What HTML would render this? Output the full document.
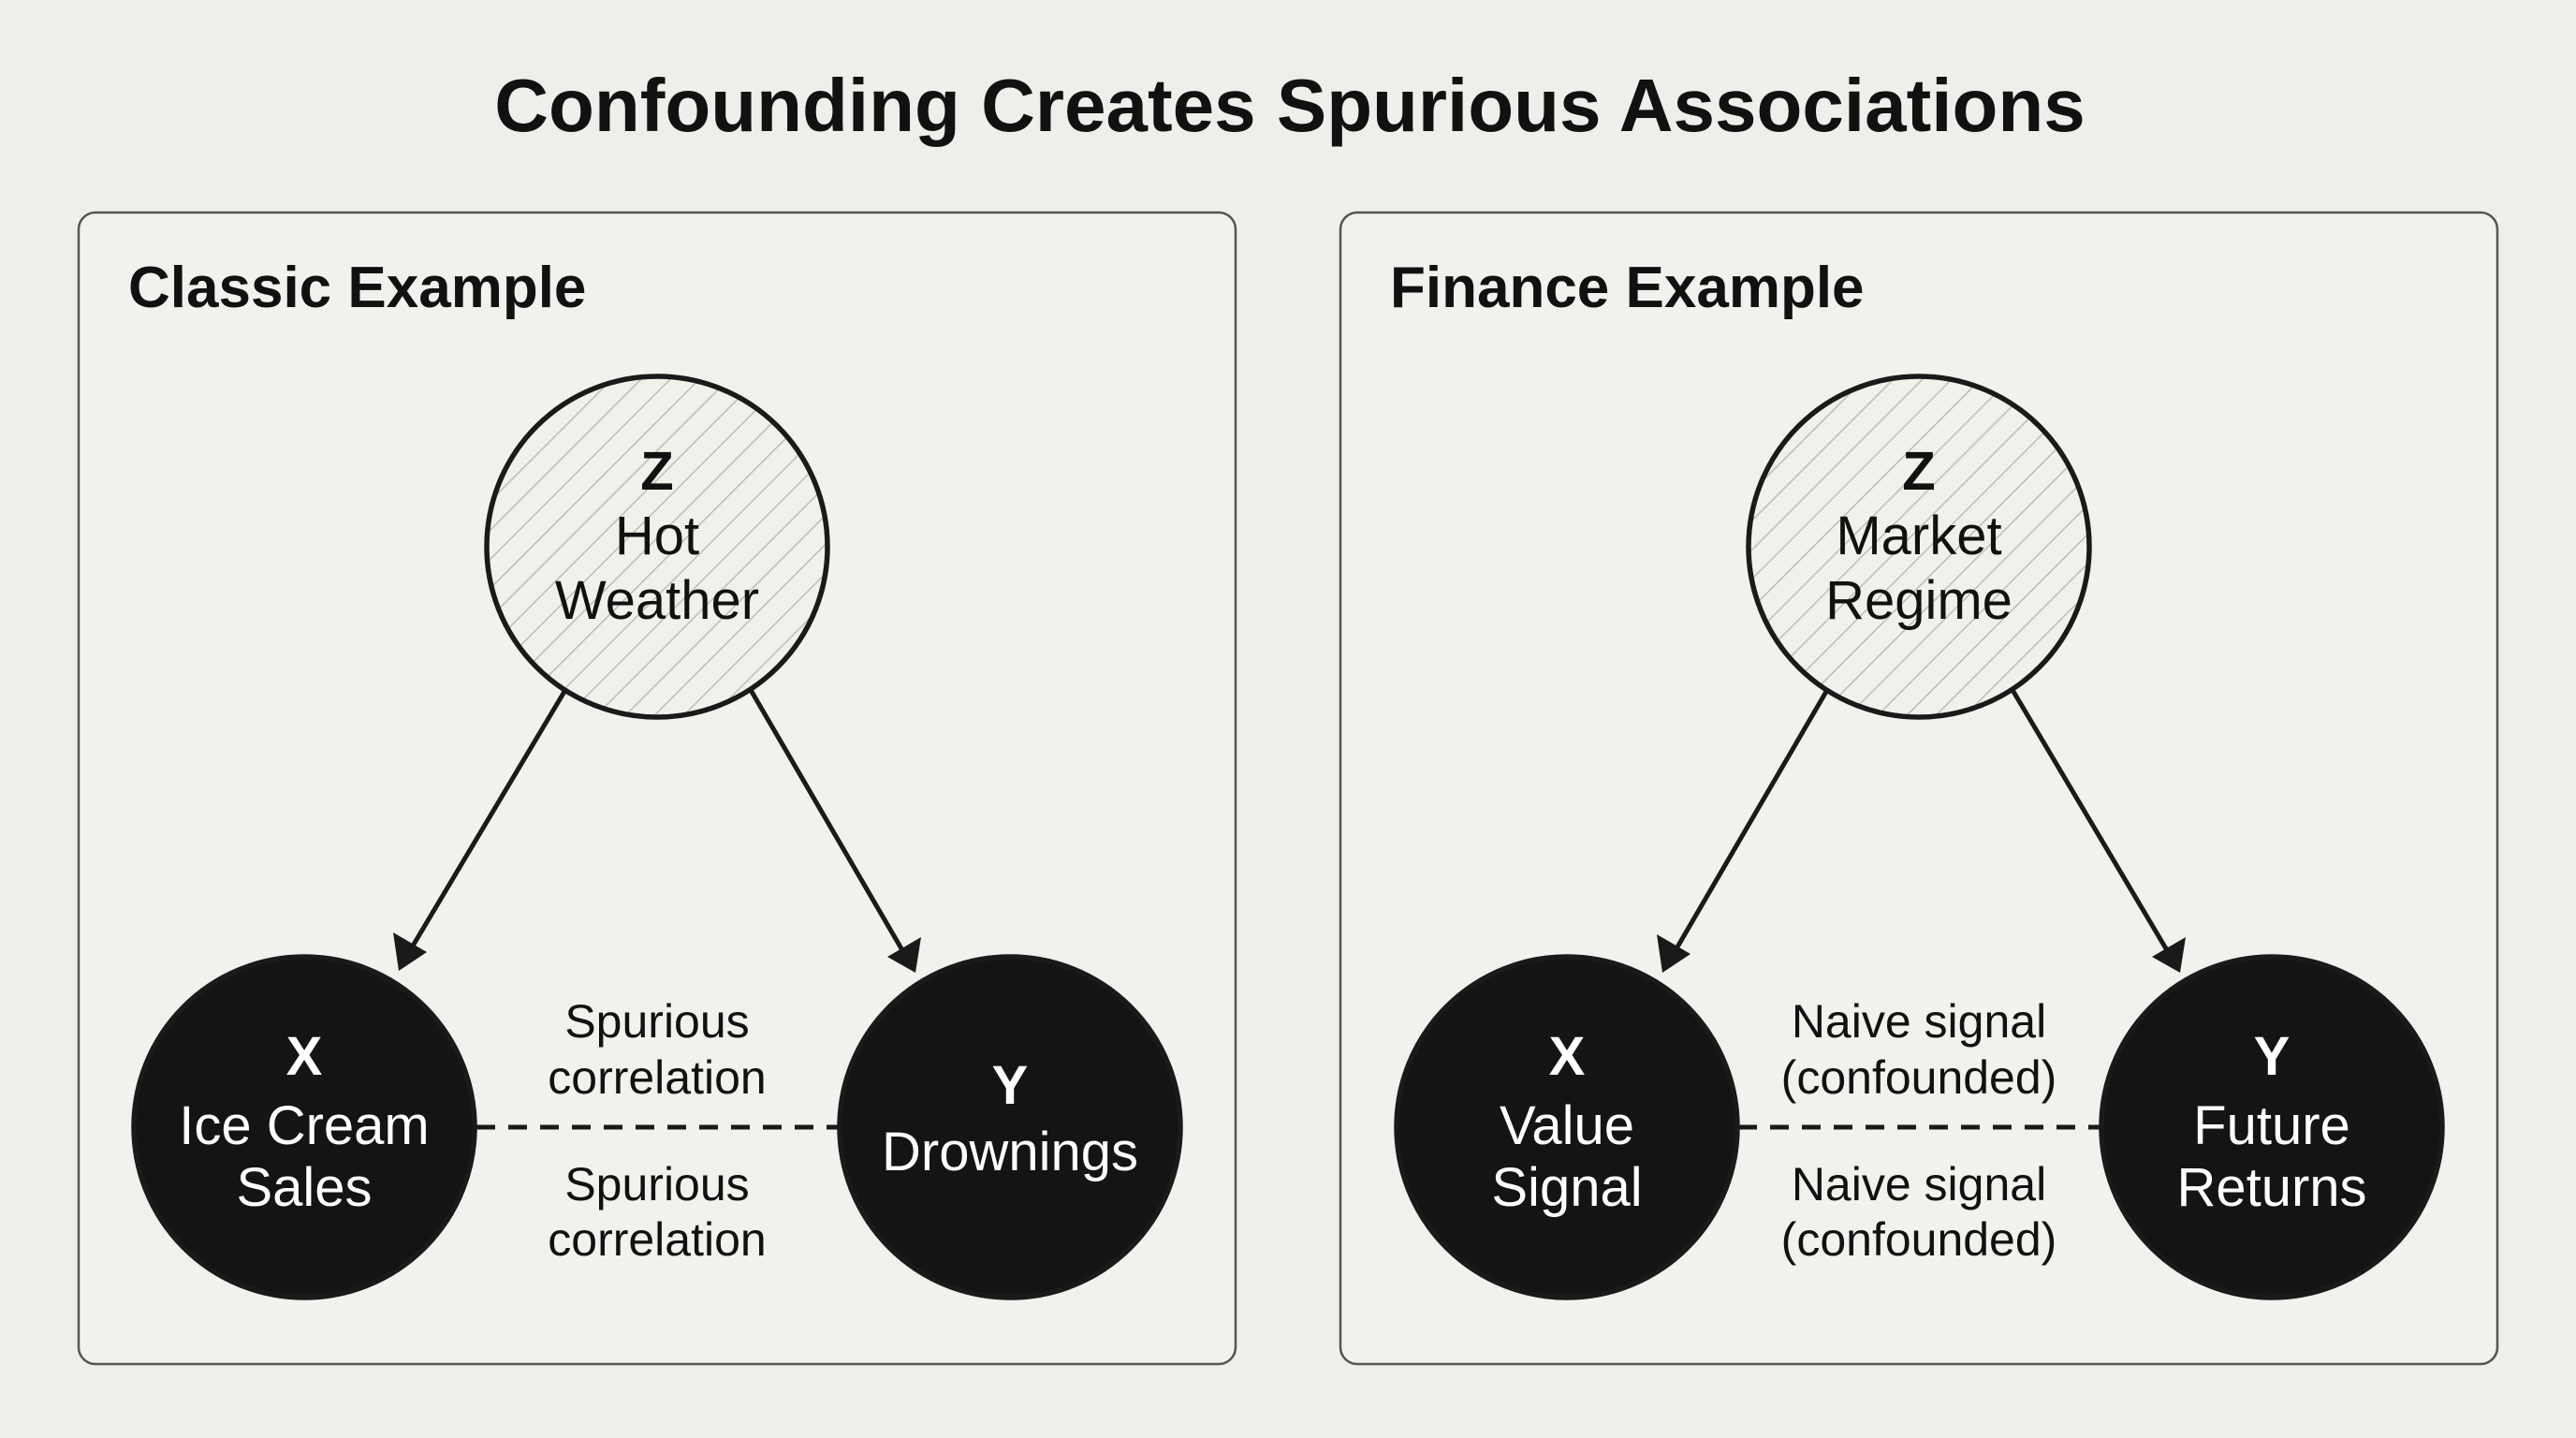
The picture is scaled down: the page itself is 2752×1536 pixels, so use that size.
<!DOCTYPE html>
<html><head><meta charset="utf-8"><style>
html,body{margin:0;padding:0;background:#efeeea;}
svg{display:block}
text{font-family:"Liberation Sans",Arial,sans-serif;}
</style></head><body>
<svg width="2752" height="1536" viewBox="0 0 2752 1536" xmlns="http://www.w3.org/2000/svg">
<defs>
<pattern id="h" patternUnits="userSpaceOnUse" width="22" height="22" patternTransform="rotate(45)">
<rect width="22" height="22" fill="#f1f0eb"/>
<line x1="0" y1="0" x2="0" y2="22" stroke="#bdbcb6" stroke-width="3"/>
</pattern>
</defs>
<rect width="2752" height="1536" fill="#efeeea"/>
<text x="1378" y="140" font-size="80" font-weight="bold" text-anchor="middle" fill="#111">Confounding Creates Spurious Associations</text>

<g stroke="#555" stroke-width="2.5" fill="#f2f1ed">
<rect x="84" y="227" width="1236" height="1230" rx="18"/>
<rect x="1432" y="227" width="1236" height="1230" rx="18"/>
</g>
<text x="137" y="328" font-size="62" font-weight="bold" fill="#111">Classic Example</text>
<text x="1485" y="328" font-size="62" font-weight="bold" fill="#111">Finance Example</text>

<g stroke="#1a1a1a" stroke-width="5" fill="none">
<line x1="604" y1="737" x2="440" y2="1012"/>
<line x1="802" y1="737" x2="964" y2="1015"/>
<line x1="1952" y1="737" x2="1790" y2="1015"/>
<line x1="2150" y1="737" x2="2315" y2="1015"/>
<line x1="509" y1="1204" x2="895" y2="1204" stroke-dasharray="20 14"/>
<line x1="1857" y1="1204" x2="2246" y2="1204" stroke-dasharray="20 14"/>
</g>
<g fill="#1a1a1a">
<polygon points="426,1037 420,996 456,1017"/>
<polygon points="978,1039 948,1022 984,1001"/>
<polygon points="1776,1039 1770,998 1806,1019"/>
<polygon points="2329,1039 2299,1022 2335,1001"/>
</g>

<g stroke="#1a1a1a" stroke-width="5.5">
<circle cx="702" cy="584" r="182" fill="url(#h)"/>
<circle cx="2050" cy="584" r="182" fill="url(#h)"/>
<circle cx="325" cy="1204" r="182" fill="#141414"/>
<circle cx="1079" cy="1204" r="182" fill="#141414"/>
<circle cx="1674" cy="1204" r="182" fill="#141414"/>
<circle cx="2427" cy="1204" r="182" fill="#141414"/>
</g>

<g font-size="58" text-anchor="middle" fill="#111">
<text x="702" y="523" font-weight="bold">Z</text>
<text x="702" y="592">Hot</text>
<text x="702" y="661">Weather</text>
<text x="2050" y="523" font-weight="bold">Z</text>
<text x="2050" y="592">Market</text>
<text x="2050" y="661">Regime</text>
</g>
<g font-size="58" text-anchor="middle" fill="#fff">
<text x="325" y="1148" font-weight="bold">X</text>
<text x="325" y="1222">Ice Cream</text>
<text x="325" y="1288">Sales</text>
<text x="1079" y="1179" font-weight="bold">Y</text>
<text x="1079" y="1250">Drownings</text>
<text x="1674" y="1148" font-weight="bold">X</text>
<text x="1674" y="1222">Value</text>
<text x="1674" y="1288">Signal</text>
<text x="2427" y="1148" font-weight="bold">Y</text>
<text x="2427" y="1222">Future</text>
<text x="2427" y="1288">Returns</text>
</g>
<g font-size="50" text-anchor="middle" fill="#111">
<text x="702" y="1108">Spurious</text>
<text x="702" y="1168">correlation</text>
<text x="702" y="1282">Spurious</text>
<text x="702" y="1341">correlation</text>
<text x="2050" y="1108">Naive signal</text>
<text x="2050" y="1168">(confounded)</text>
<text x="2050" y="1282">Naive signal</text>
<text x="2050" y="1341">(confounded)</text>
</g>
</svg>
</body></html>
